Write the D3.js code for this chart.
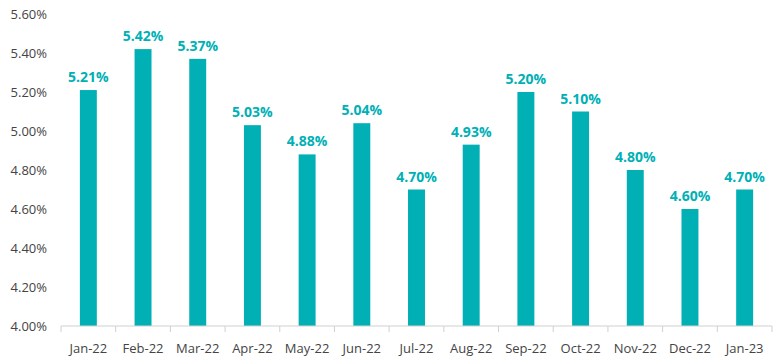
<!doctype html>
<html>
<head>
<meta charset="utf-8">
<script src="https://cdn.jsdelivr.net/npm/d3@7"></script>
<style>
  body { margin: 0; background: #fff; }
  text { font-family: "Open Sans", "Liberation Sans", sans-serif; }
</style>
</head>
<body>
<svg width="780" height="362"></svg>
<script>
var months = ["Jan-22", "Feb-22", "Mar-22", "Apr-22", "May-22", "Jun-22", "Jul-22",
              "Aug-22", "Sep-22", "Oct-22", "Nov-22", "Dec-22", "Jan-23"];
var rates = [5.21, 5.42, 5.37, 5.03, 4.88, 5.04, 4.70, 4.93, 5.20, 5.10, 4.80, 4.60, 4.70];
var yTicks = [4.0, 4.2, 4.4, 4.6, 4.8, 5.0, 5.2, 5.4, 5.6];

var svg = d3.select("svg"),
    margin = { top: 14, right: 8, bottom: 36, left: 61 },
    width = +svg.attr("width") - margin.left - margin.right,
    height = +svg.attr("height") - margin.top - margin.bottom,
    g = svg.append("g").attr("transform", "translate(" + margin.left + "," + margin.top + ")");

var teal = "#00b0b5";

var x = d3.scaleBand().domain(months).range([0, width]).paddingInner(0.69).paddingOuter(0.345);
var xEdge = d3.scaleBand().domain(months).range([0, width]);
var y = d3.scaleLinear().domain([4.0, 5.6]).range([height, 0]);

// y labels
g.selectAll(".ylab").data(yTicks).enter().append("text")
    .attr("x", -14)
    .attr("y", function(d) { return y(d); })
    .attr("dy", "0.35em")
    .attr("text-anchor", "end")
    .attr("font-size", 13)
    .attr("fill", "#444")
    .text(function(d) { return d.toFixed(2) + "%"; });

// bars
g.selectAll(".bar").data(rates).enter().append("rect")
    .attr("x", function(d, i) { return x(months[i]); })
    .attr("y", function(d) { return y(d); })
    .attr("width", x.bandwidth())
    .attr("height", function(d) { return height - y(d); })
    .attr("fill", teal);

// value labels
g.selectAll(".val").data(rates).enter().append("text")
    .attr("x", function(d, i) { return x(months[i]) + x.bandwidth() / 2; })
    .attr("y", function(d) { return y(d) - 8; })
    .attr("text-anchor", "middle")
    .attr("font-size", 14)
    .attr("font-weight", "bold")
    .attr("fill", teal)
    .text(function(d) { return d.toFixed(2) + "%"; });

// x axis
var axis = g.append("g").attr("transform", "translate(0," + height + ")");
axis.append("line").attr("x1", 0).attr("x2", width).attr("stroke", "#d0d0d0");
var edges = months.map(function(m) { return xEdge(m); }).concat([width]);
axis.selectAll(".tk").data(edges).enter().append("line")
    .attr("x1", function(d) { return d; }).attr("x2", function(d) { return d; })
    .attr("y1", 0).attr("y2", 6)
    .attr("stroke", "#d0d0d0");
axis.selectAll(".xlab").data(months).enter().append("text")
    .attr("x", function(d) { return x(d) + x.bandwidth() / 2; })
    .attr("y", 27)
    .attr("text-anchor", "middle")
    .attr("font-size", 13)
    .attr("fill", "#444")
    .text(function(d) { return d; });
</script>
</body>
</html>
